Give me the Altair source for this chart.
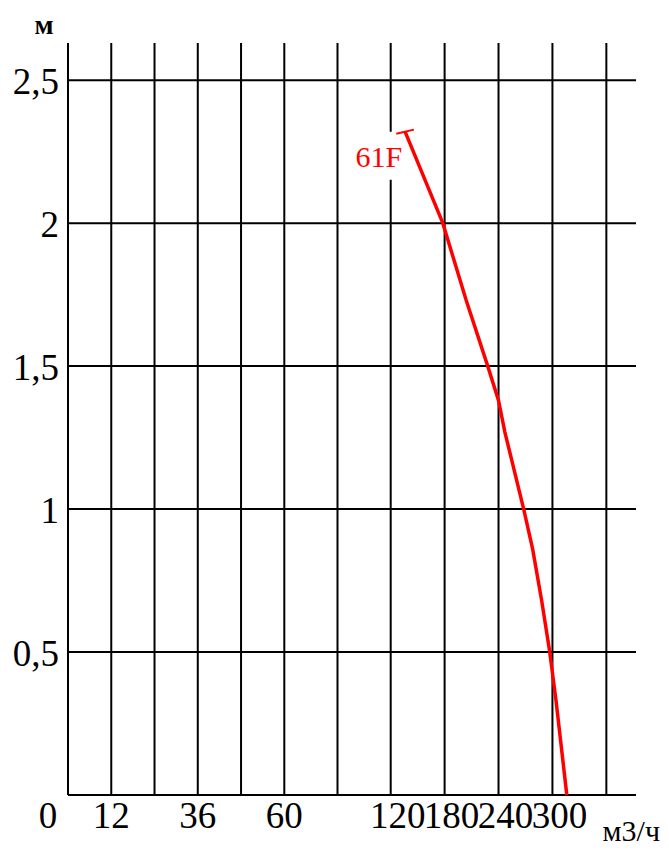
import altair as alt
import pandas as pd

# ---- data ----
flow = [136, 178, 204, 228, 240, 247, 268, 278, 288, 297, 304, 316]
head = [2.32, 2.0, 1.73, 1.5, 1.38, 1.27, 1.0, 0.86, 0.68, 0.5, 0.33, 0.0]
series_name = "61F"

x_grid = [0, 12, 24, 36, 48, 60, 90, 120, 180, 240, 300, 360]
y_grid = [0, 0.5, 1, 1.5, 2, 2.5]

y_tick_vals = [0.5, 1, 1.5, 2, 2.5]
y_tick_labels = ["0,5", "1", "1,5", "2", "2,5"]
x_tick_vals_left = [12, 36, 60]
x_tick_labels_left = ["12", "36", "60"]
x_tick_vals_right = [120, 180, 240, 300]
x_tick_labels_right = ["120", "180", "240", "300"]
origin_label = "0"
y_unit = "м"
x_unit = "м3/ч"

FONT = "Liberation Serif"
W, H = 568, 752

xs = alt.Scale(domain=[0, 60, 120, 393], range=[0, 216.3, 322.7, W], nice=False, zero=False)
ys = alt.Scale(domain=[0, 2.63], nice=False, zero=False)

def X(field):
    return alt.X(field, scale=xs, axis=None)

def Y(field):
    return alt.Y(field, scale=ys, axis=None)

vrules = alt.Chart(pd.DataFrame({"q": x_grid})).mark_rule(color="black", strokeWidth=2).encode(x=X("q:Q"))
hrules = alt.Chart(pd.DataFrame({"h": y_grid})).mark_rule(color="black", strokeWidth=2).encode(y=Y("h:Q"))

curve_df = pd.DataFrame({"q": flow, "h": head})
top_df = pd.DataFrame({"q": [flow[0]], "h": [head[0]], "name": [series_name]})

box = alt.Chart(top_df).mark_point(
    shape="M -1 -1 L 1 -1 L 1 1 L -1 1 Z", size=2304, filled=True, fill="white",
    opacity=1, strokeWidth=0, xOffset=-26, yOffset=24
).encode(x=X("q:Q"), y=Y("h:Q"))

line = alt.Chart(curve_df).mark_line(color="#ff0000", strokeWidth=3.5).encode(x=X("q:Q"), y=Y("h:Q"))

cap = alt.Chart(top_df).mark_point(
    shape="stroke", size=324, angle=347, color="#ff0000", strokeWidth=2, filled=False, opacity=1
).encode(x=X("q:Q"), y=Y("h:Q"))

label61 = alt.Chart(top_df).mark_text(
    color="#ff0000", font=FONT, fontSize=30, align="right", baseline="alphabetic", dx=-3, dy=35
).encode(x=X("q:Q"), y=Y("h:Q"), text="name:N")

ylab = alt.Chart(pd.DataFrame({"h": y_tick_vals, "lab": y_tick_labels})).mark_text(
    font=FONT, fontSize=37, align="right", baseline="alphabetic", dx=-9, dy=14, color="black"
).encode(x=alt.value(0), y=Y("h:Q"), text="lab:N")

xlab_l = alt.Chart(pd.DataFrame({"q": x_tick_vals_left, "lab": x_tick_labels_left})).mark_text(
    font=FONT, fontSize=37, align="center", baseline="alphabetic", dy=33, color="black"
).encode(x=X("q:Q"), y=alt.value(H), text="lab:N")

xlab_r = alt.Chart(pd.DataFrame({"q": x_tick_vals_right, "lab": x_tick_labels_right})).mark_text(
    font=FONT, fontSize=37, align="center", baseline="alphabetic", dx=7, dy=33, color="black"
).encode(x=X("q:Q"), y=alt.value(H), text="lab:N")

zero_lab = alt.Chart(pd.DataFrame({"t": [origin_label]})).mark_text(
    font=FONT, fontSize=37, align="center", baseline="alphabetic", dx=-20, dy=33, color="black"
).encode(x=alt.value(0), y=alt.value(H), text="t:N")

yunit = alt.Chart(pd.DataFrame({"t": [y_unit]})).mark_text(
    font=FONT, fontSize=28, fontWeight="bold", align="center", baseline="alphabetic", dx=-24, dy=-9, color="black"
).encode(x=alt.value(0), y=alt.value(0), text="t:N")

xunit = alt.Chart(pd.DataFrame({"t": [x_unit]})).mark_text(
    font=FONT, fontSize=30, align="right", baseline="alphabetic", dx=24, dy=46, color="black"
).encode(x=alt.value(W), y=alt.value(H), text="t:N")

chart = alt.layer(
    vrules, hrules, box, line, cap, label61, ylab, xlab_l, xlab_r, zero_lab, yunit, xunit
).properties(
    width=W, height=H, autosize="none",
    padding={"left": 60, "top": 35, "right": 25, "bottom": 52},
    background="white",
).configure_view(stroke=None)

chart.save("out.html", embed_options={"renderer": "svg", "actions": False})
